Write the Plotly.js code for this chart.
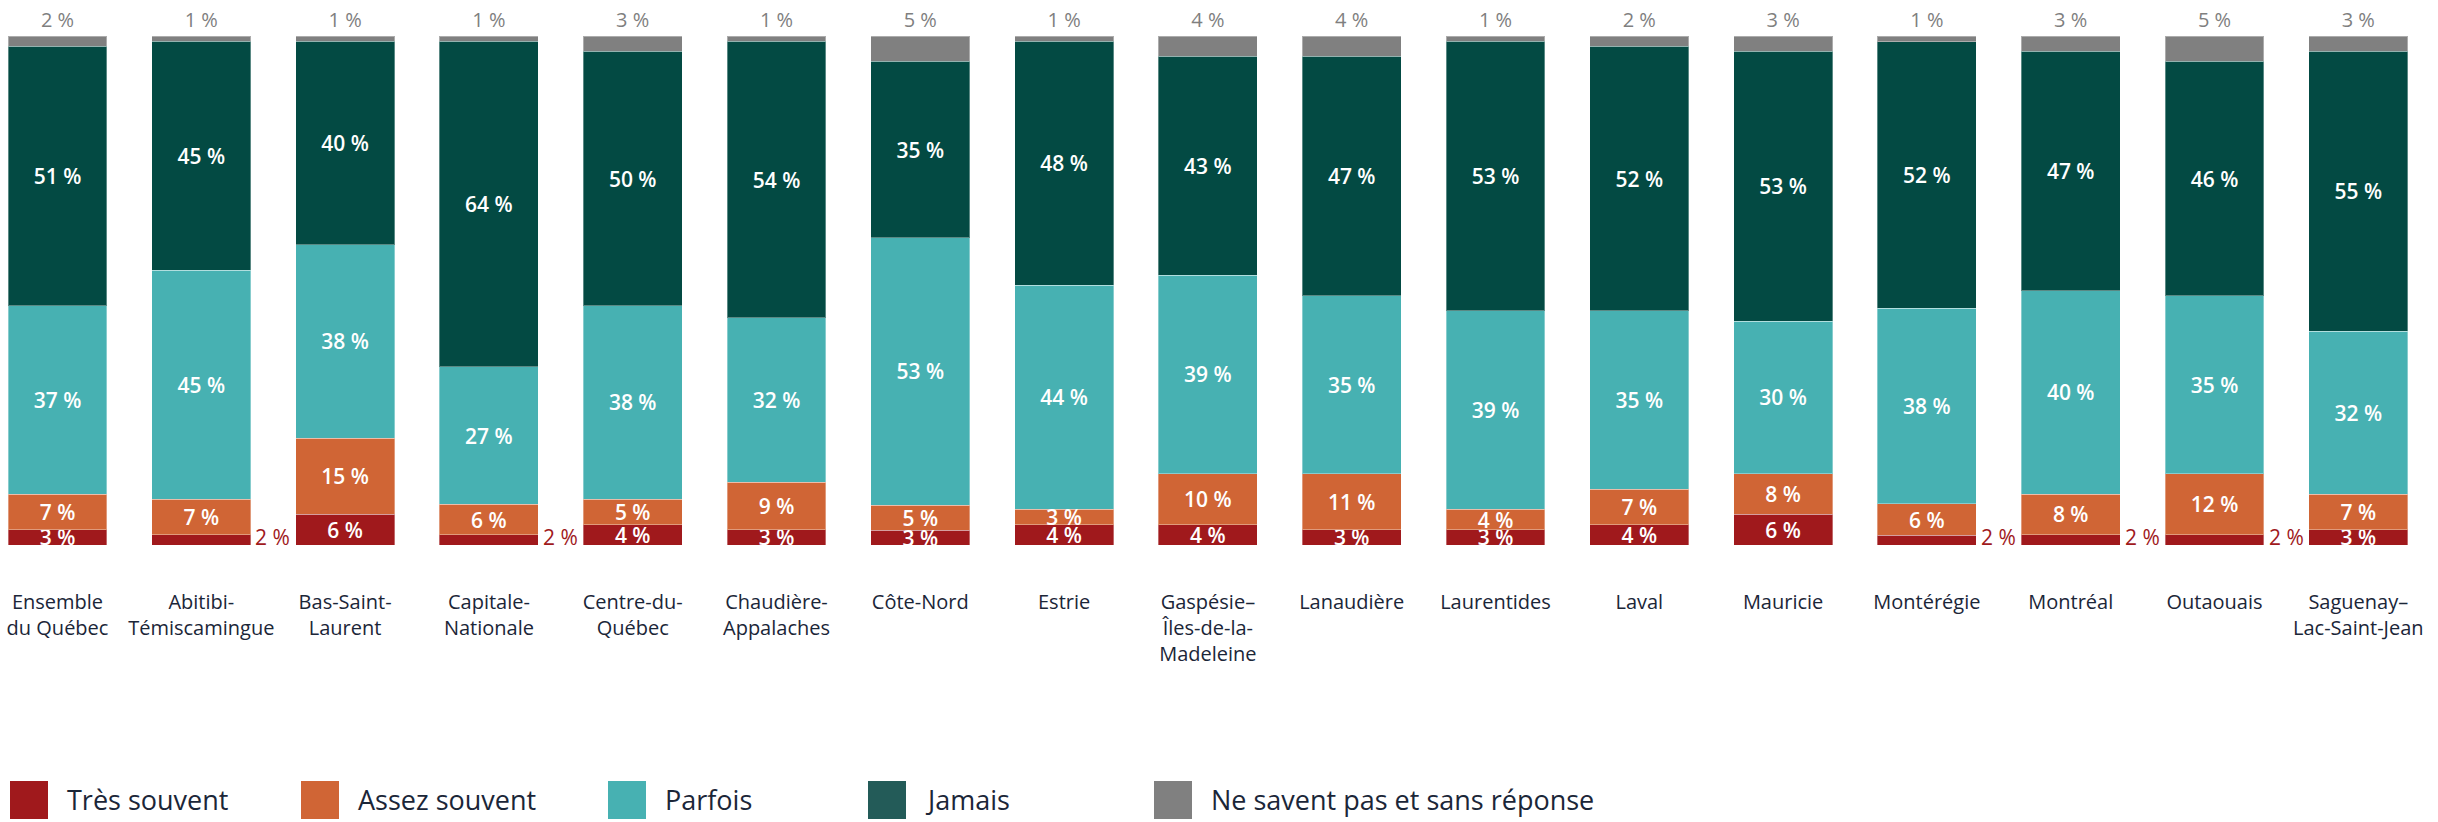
<!DOCTYPE html>
<html>
<head>
<meta charset="utf-8">
<script src="https://cdn.plot.ly/plotly-3.0.1.min.js"></script>
<style>html,body{margin:0;padding:0;background:#fff;}#chart{width:2438px;height:822px;}</style>
</head>
<body>
<div id="chart"></div>
<script>
// ---- data ----
const categories = ['Ensemble<br>du Québec','Abitibi-<br>Témiscamingue','Bas-Saint-<br>Laurent','Capitale-<br>Nationale','Centre-du-<br>Québec','Chaudière-<br>Appalaches','Côte-Nord','Estrie','Gaspésie–<br>Îles-de-la-<br>Madeleine','Lanaudière','Laurentides','Laval','Mauricie','Montérégie','Montréal','Outaouais','Saguenay–<br>Lac-Saint-Jean'];
const seriesNames = ['Très souvent','Assez souvent','Parfois','Jamais','Ne savent pas et sans réponse'];
const tresSouvent  = [3, 2, 6, 2, 4, 3.0, 2.9, 4, 4, 3, 3, 4, 6, 1.9, 2, 2, 3];
const assezSouvent = [7, 7, 15, 6, 5, 9.3, 4.9, 3, 10, 11, 4, 7, 8, 6.2, 8, 12, 7];
const parfois      = [37, 45, 38, 27, 38, 32.3, 52.6, 44, 39, 35, 39, 35, 30, 38.4, 40, 35, 32];
const jamais       = [51, 45, 40, 64, 50, 54.4, 34.6, 48, 43, 47, 53, 52, 53, 52.4, 47, 46, 55];
const nsp          = [2, 1, 1, 1, 3, 1.0, 5.0, 1, 4, 4, 1, 2, 3, 1.1, 3, 5, 3];

// ---- styles ----
const colors = ['#A0191C', '#D06535', '#47B1B2', '#034A43', '#808080'];
const legendColors = ['#A0191C', '#D06535', '#47B1B2', '#235B58', '#808080'];
const W = 2438, H = 822, plotTop = 36, plotBottom = 545;
const FONT = '"Open Sans", "Noto Sans", sans-serif';
const pct = v => Math.round(v) + ' %';
const smallLimit = 2.5;

function trace(vals, i, opts) {
  return Object.assign({
    type: 'bar', name: seriesNames[i], x: categories, y: vals,
    marker: {color: colors[i], line: {color: 'rgba(255,255,255,0.35)', width: 1}},
    text: vals.map(pct), texttemplate: '%{text}',
    textposition: 'inside', insidetextanchor: 'middle', textangle: 0,
    constraintext: 'none', cliponaxis: true,
    insidetextfont: {family: FONT, size: 21, color: '#FFFFFF', weight: 600},
    hoverinfo: 'name+y', showlegend: false
  }, opts || {});
}

const data = [
  trace(tresSouvent, 0, {text: tresSouvent.map(v => v < smallLimit ? '' : pct(v))}),
  trace(assezSouvent, 1),
  trace(parfois, 2),
  trace(jamais, 3),
  trace(nsp, 4, {textposition: 'outside', cliponaxis: false,
    outsidetextfont: {family: FONT, size: 20, color: '#7F7F7F'}})
];

// annotations for small "Très souvent" values, beside the bar
const annotations = [];
tresSouvent.forEach((v, i) => {
  if (v < smallLimit) {
    annotations.push({x: categories[i], y: v / 2, xref: 'x', yref: 'y', text: pct(v),
      showarrow: false, xanchor: 'left', yanchor: 'middle', xshift: 52, yshift: 3,
      font: {family: FONT, size: 21, color: '#A0191C'}});
  }
});

// legend (manual, large swatches)
const legendX = [10, 301, 608, 868, 1154];
const py = p => (plotBottom - p) / (plotBottom - plotTop);
const shapes = [];
seriesNames.forEach((n, i) => {
  shapes.push({type: 'rect', xref: 'paper', yref: 'paper',
    x0: legendX[i] / W, x1: (legendX[i] + 38) / W, y0: py(819), y1: py(781),
    fillcolor: legendColors[i], line: {width: 0}});
  annotations.push({xref: 'paper', yref: 'paper', x: (legendX[i] + 55) / W, y: py(800),
    text: n, showarrow: false, xanchor: 'left', yanchor: 'middle',
    font: {family: FONT, size: 27, color: '#1B2638'}});
});

const pxPerCat = 143.8, firstCenter = 57.5;
const layout = {
  width: W, height: H,
  margin: {l: 0, r: 0, t: plotTop, b: H - plotBottom, pad: 0},
  paper_bgcolor: '#FFFFFF', plot_bgcolor: '#FFFFFF',
  barmode: 'stack', bargap: 0.312,
  showlegend: false,
  xaxis: {type: 'category', range: [-firstCenter / pxPerCat, (W - firstCenter) / pxPerCat],
    showgrid: false, zeroline: false, showline: false, ticks: '',
    ticklabelstandoff: 43,
    tickfont: {family: FONT, size: 20, color: '#1B2638'}, fixedrange: true},
  yaxis: {range: [0, 100], visible: false, showgrid: false, zeroline: false, fixedrange: true},
  annotations: annotations,
  shapes: shapes,
  font: {family: FONT}
};

Plotly.newPlot('chart', data, layout, {displayModeBar: false, staticPlot: true});
</script>
</body>
</html>
